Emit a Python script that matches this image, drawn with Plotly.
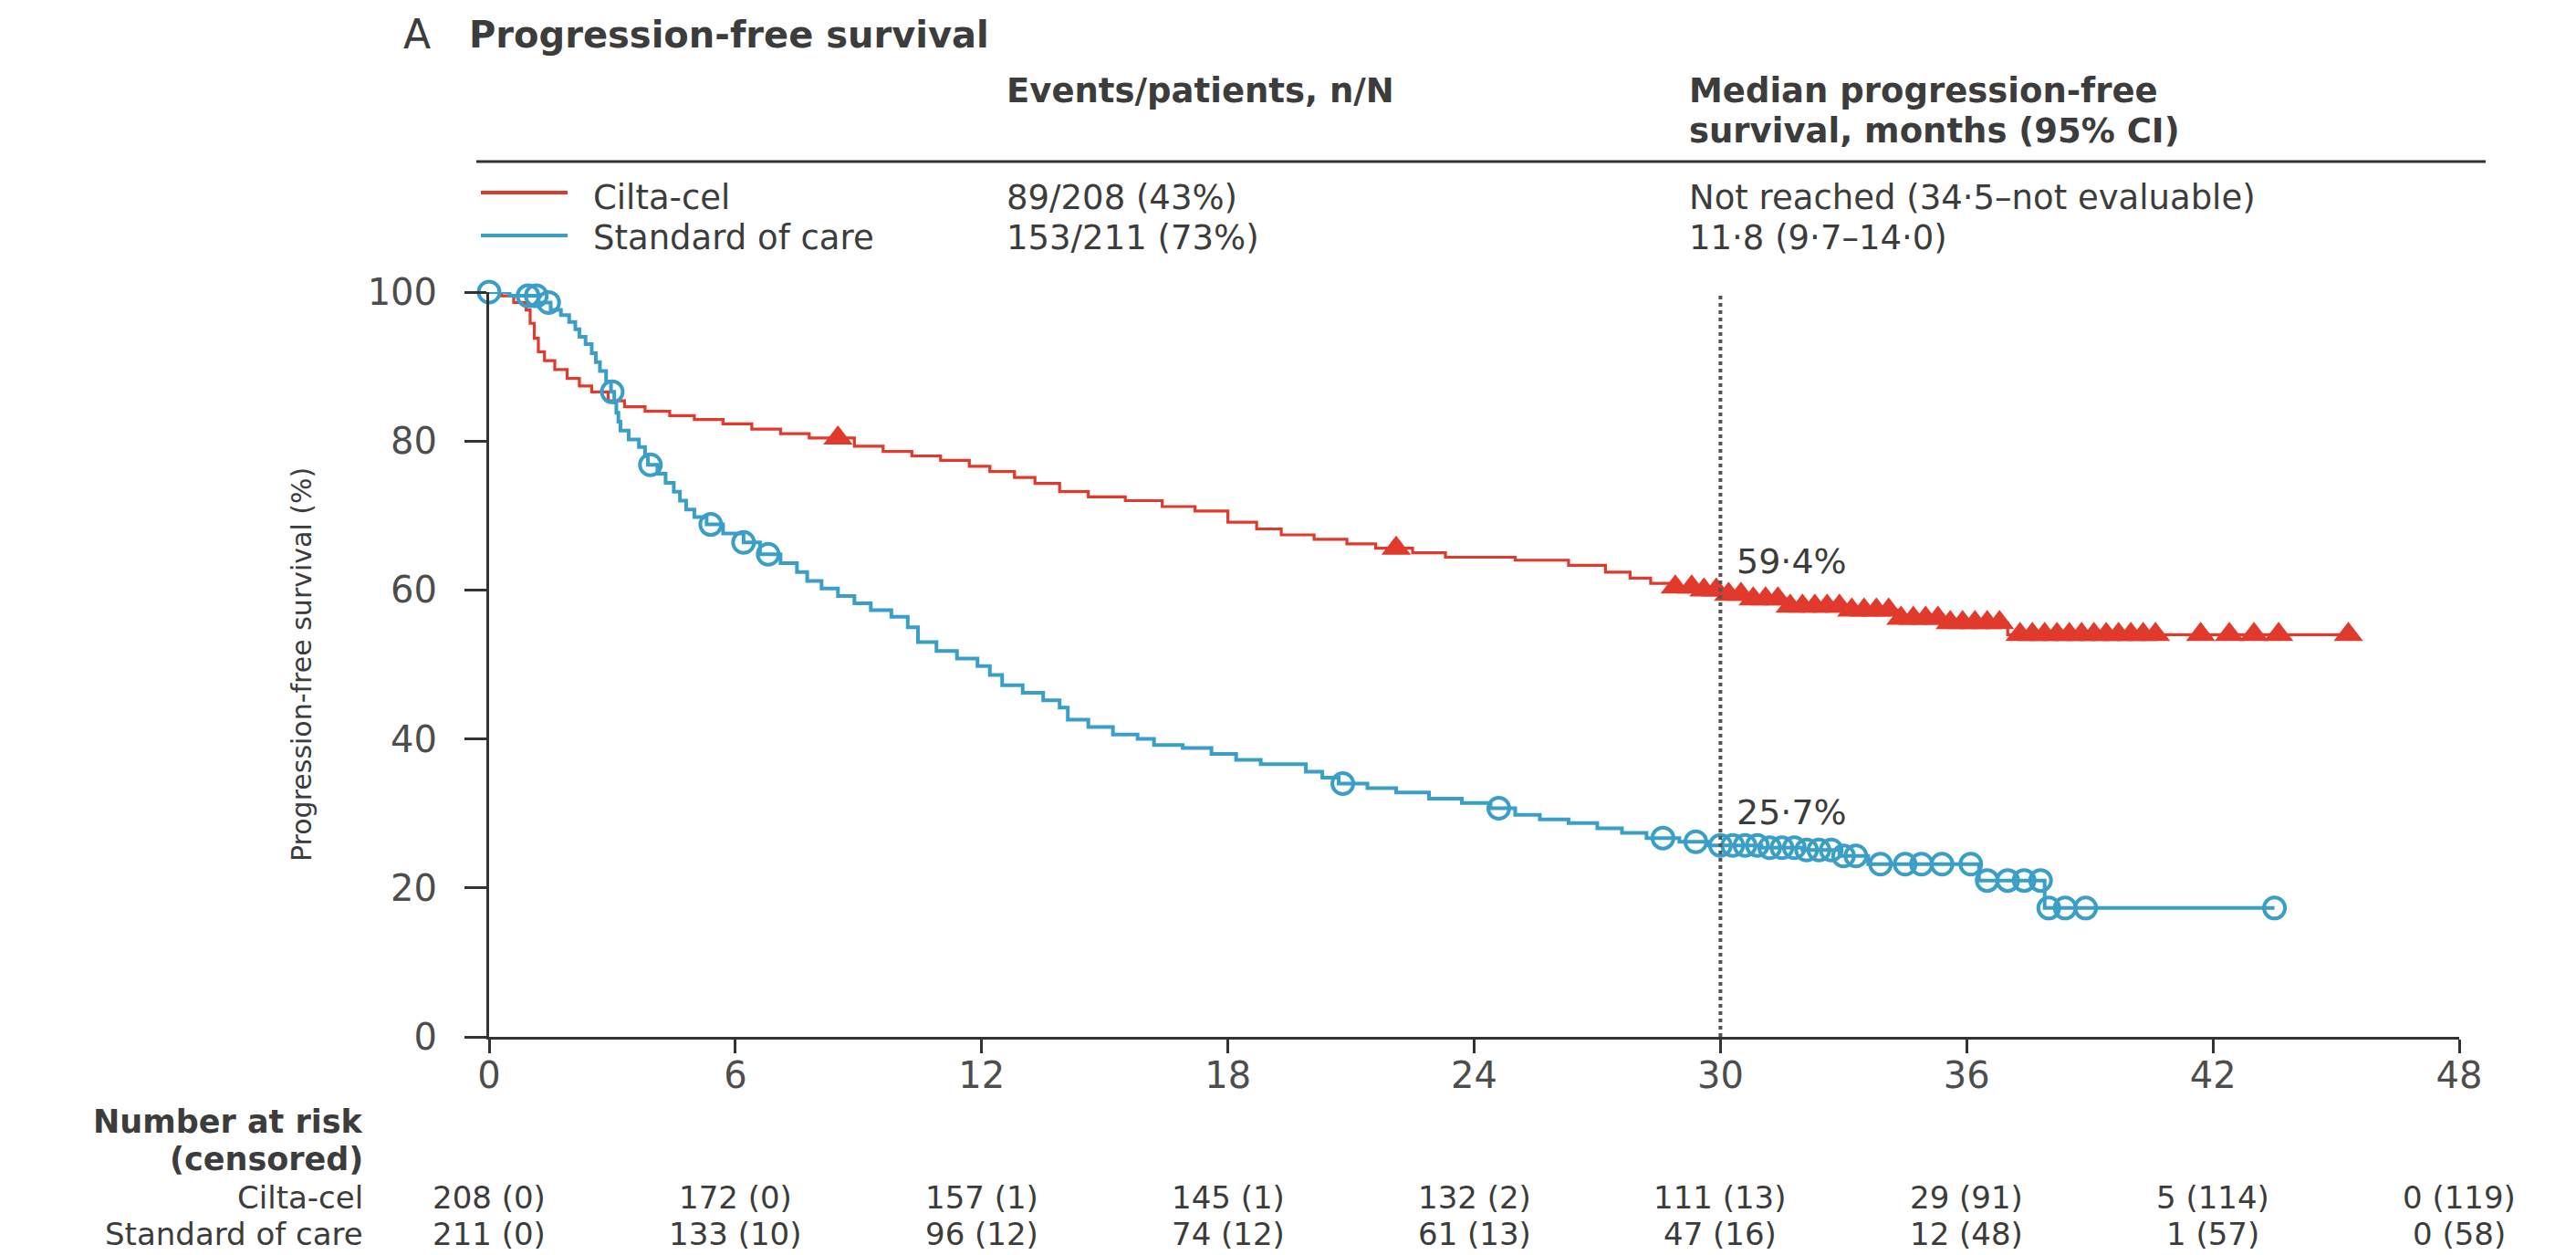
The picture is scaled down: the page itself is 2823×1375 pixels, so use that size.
import numpy as np
import plotly.graph_objects as go

# ---------------------------------------------------------------- data
months = [0, 6, 12, 18, 24, 30, 36, 42, 48]
pct_ticks = [0, 20, 40, 60, 80, 100]

# Kaplan-Meier step knots: time (months) and survival (%) after each drop
cilta_t = [0, 0.3, 0.6, 0.9, 1.0, 1.1, 1.2, 1.35, 1.6, 1.9, 2.2, 2.5, 2.9, 3.3,
           3.8, 4.4, 5.0, 5.7, 6.4, 7.1, 7.8, 8.9, 9.6, 10.3, 11.0, 11.7, 12.2,
           12.8, 13.3, 13.9, 14.6, 15.5, 16.4, 17.2, 18.0, 18.7, 19.3, 20.1,
           20.9, 21.6, 22.5, 23.3, 25.0, 26.3, 27.2, 27.8, 28.3, 28.8, 29.5,
           30.0, 30.8, 31.6, 33.0, 34.4, 35.5, 37.0]
cilta_s = [100, 99.5, 98.6, 97.6, 95.8, 93.8, 92.0, 90.8, 89.6, 88.4, 87.4, 86.6,
           85.4, 84.6, 84.0, 83.4, 82.9, 82.3, 81.6, 81.0, 80.4, 79.3, 78.6,
           78.0, 77.4, 76.6, 75.9, 75.1, 74.3, 73.2, 72.5, 72.0, 71.2, 70.6,
           69.1, 68.2, 67.4, 66.8, 66.2, 65.6, 65.0, 64.4, 64.0, 63.3, 62.4,
           61.6, 60.9, 60.4, 60.0, 59.4, 58.8, 57.8, 57.3, 56.2, 55.6, 54.0]
cilta_end = 45.3
cilta_censor = [8.5, 22.1, 28.9, 29.3, 29.6, 29.9, 30.2, 30.5, 30.8, 31.1, 31.4,
                31.7, 32.0, 32.3, 32.6, 32.9, 33.2, 33.5, 33.8, 34.1, 34.4, 34.7,
                35.0, 35.3, 35.6, 35.9, 36.2, 36.5, 36.8, 37.3, 37.6, 37.9, 38.2,
                38.5, 38.8, 39.1, 39.4, 39.7, 40.0, 40.3, 40.6, 41.7, 42.4, 43.0,
                43.6, 45.3]

soc_t = [0, 0.5, 1.2, 1.5, 1.75, 1.95, 2.1, 2.2, 2.35, 2.5, 2.6, 2.7, 2.85, 2.97,
         3.05, 3.1, 3.15, 3.2, 3.4, 3.65, 3.8, 3.87, 4.1, 4.3, 4.5, 4.65, 4.8,
         5.0, 5.3, 5.7, 6.2, 6.6, 7.1, 7.5, 7.75, 8.1, 8.5, 8.9, 9.3, 9.8, 10.2,
         10.45, 10.9, 11.4, 11.9, 12.2, 12.5, 13.0, 13.5, 13.9, 14.1, 14.6, 15.2,
         15.8, 16.2, 16.9, 17.6, 18.2, 18.8, 19.9, 20.3, 20.7, 21.4, 22.1, 22.9,
         23.7, 24.4, 25.0, 25.6, 26.3, 27.0, 27.6, 28.2, 29.0, 29.7, 31.0, 32.0,
         32.9, 33.6, 36.3, 37.9]
soc_s = [100, 99.5, 98.6, 97.6, 96.9, 96.0, 95.0, 94.0, 93.0, 91.8, 90.6, 89.4,
         88.0, 86.6, 85.2, 83.8, 82.6, 81.4, 80.2, 79.2, 78.0, 76.8, 75.6, 74.4,
         73.2, 72.0, 70.8, 69.8, 68.8, 67.6, 66.4, 64.8, 63.6, 62.4, 61.2, 60.2,
         59.2, 58.2, 57.3, 56.4, 55.0, 53.0, 51.8, 50.8, 49.8, 48.6, 47.2, 46.2,
         45.2, 44.2, 42.6, 41.6, 40.6, 40.0, 39.2, 38.8, 38.0, 37.2, 36.6, 35.6,
         34.8, 34.0, 33.4, 32.8, 32.0, 31.4, 30.7, 29.8, 29.2, 28.7, 28.0, 27.4,
         26.7, 26.2, 25.7, 25.4, 25.1, 24.3, 23.2, 21.0, 17.3]
soc_end = 43.5
soc_censor = [0.0, 0.95, 1.15, 1.45, 3.0, 3.93, 5.4, 6.2, 6.8, 20.8, 24.6, 28.6,
              29.4, 30.0, 30.3, 30.6, 30.9, 31.2, 31.5, 31.8, 32.1, 32.4, 32.7,
              33.0, 33.3, 33.9, 34.5, 34.9, 35.4, 36.1, 36.5, 37.0, 37.4, 37.8,
              38.0, 38.4, 38.9, 43.5]

landmark = 30

groups = ["Cilta-cel", "Standard of care"]
events = ["89/208 (43%)", "153/211 (73%)"]
medians = ["Not reached (34·5–not evaluable)", "11·8 (9·7–14·0)"]
risk_cilta = ["208 (0)", "172 (0)", "157 (1)", "145 (1)", "132 (2)", "111 (13)",
              "29 (91)", "5 (114)", "0 (119)"]
risk_soc = ["211 (0)", "133 (10)", "96 (12)", "74 (12)", "61 (13)", "47 (16)",
            "12 (48)", "1 (57)", "0 (58)"]

# ---------------------------------------------------------------- style
RED = "#e1392c"
BLUE = "#3a9fc8"
INK = "#333333"
TXT = "#3c3c3c"
TICK_TXT = "#4d4d4d"
FONT = "DejaVu Sans"

W, H = 2823, 1375
ML, MR, MT, MB = 536, 128, 320, 239


def px(x):
    """Horizontal pixel -> paper fraction."""
    return (x - ML) / (W - ML - MR)


def py(y):
    """Vertical pixel (from top) -> paper fraction."""
    return (H - MB - y) / (H - MT - MB)


def step_value(t_knots, s_knots, t):
    i = np.searchsorted(np.asarray(t_knots), np.asarray(t), side="right") - 1
    return np.asarray(s_knots)[i]


def fmt_pct(v):
    return f"{v:.1f}".replace(".", "·") + "%"


fig = go.Figure()

# survival curves
for t, s, end, col, w in [(cilta_t, cilta_s, cilta_end, RED, 3.2),
                          (soc_t, soc_s, soc_end, BLUE, 4)]:
    fig.add_trace(go.Scatter(
        x=list(t) + [end], y=list(s) + [s[-1]], mode="lines",
        line=dict(color=col, width=w, shape="hv"),
        hoverinfo="skip", showlegend=False, cliponaxis=False))

# censoring marks
fig.add_trace(go.Scatter(
    x=cilta_censor, y=step_value(cilta_t, cilta_s, cilta_censor), mode="markers",
    marker=dict(symbol="triangle-up", size=28, color=RED, line=dict(width=0)),
    showlegend=False, cliponaxis=False))
fig.add_trace(go.Scatter(
    x=soc_censor, y=step_value(soc_t, soc_s, soc_censor), mode="markers",
    marker=dict(symbol="circle-open", size=23, color=BLUE,
                line=dict(width=4, color=BLUE)),
    showlegend=False, cliponaxis=False))

# landmark line at 30 months
fig.add_shape(type="line", xref="x", yref="y", x0=landmark, x1=landmark, y0=0, y1=100.5,
              line=dict(color="#555555", width=4, dash="dot"))

annotations = []
v_c = float(step_value(cilta_t, cilta_s, landmark))
v_s = float(step_value(soc_t, soc_s, landmark))
for v in (v_c, v_s):
    annotations.append(dict(x=landmark + 0.35, y=v + 4.4, xref="x", yref="y",
                            text=fmt_pct(v), font=dict(size=38)))

# heading block
annotations += [
    dict(x=px(440), y=py(38), text="A", font=dict(size=44)),
    dict(x=px(512), y=py(38), text="<b>Progression-free survival</b>", font=dict(size=40)),
    dict(x=px(1101), y=py(99), text="<b>Events/patients, n/N</b>", font=dict(size=37)),
    dict(x=px(1849), y=py(99), text="<b>Median progression-free</b>", font=dict(size=37)),
    dict(x=px(1849), y=py(143), text="<b>survival, months (95% CI)</b>", font=dict(size=37)),
]
for row_y, g, e, m in zip([216, 260], groups, events, medians):
    annotations += [
        dict(x=px(648), y=py(row_y), text=g, font=dict(size=37)),
        dict(x=px(1101), y=py(row_y), text=e, font=dict(size=37)),
        dict(x=px(1849), y=py(row_y), text=m, font=dict(size=37)),
    ]

# y-axis title
annotations.append(dict(x=px(330), y=0.5, text="Progression-free survival (%)",
                        textangle=-90, xanchor="center", font=dict(size=30)))

# number-at-risk table
LABEL_R = 400
annotations += [
    dict(x=px(LABEL_R), y=py(1229), text="<b>Number at risk</b>", xanchor="right",
         font=dict(size=35)),
    dict(x=px(LABEL_R), y=py(1270), text="<b>(censored)</b>", xanchor="right",
         font=dict(size=35)),
]
for row_y, g, vals in zip([1312, 1352], groups, [risk_cilta, risk_soc]):
    annotations.append(dict(x=px(LABEL_R), y=py(row_y), text=g, xanchor="right",
                            font=dict(size=34)))
    for m, v in zip(months, vals):
        annotations.append(dict(x=m, xref="x", y=py(row_y), text=v,
                                xanchor="center", font=dict(size=34)))

for a in annotations:
    a.setdefault("xref", "paper")
    a.setdefault("yref", "paper")
    a.setdefault("xanchor", "left")
    a.setdefault("yanchor", "middle")
    a["showarrow"] = False
    f = a.setdefault("font", {})
    f.setdefault("family", FONT)
    f.setdefault("color", TXT)

shapes = [
    # rule under the column headings
    dict(type="line", xref="paper", yref="paper", x0=px(522), x1=px(2724),
         y0=py(177), y1=py(177), line=dict(color=INK, width=3)),
    # legend keys
    dict(type="line", xref="paper", yref="paper", x0=px(527), x1=px(622),
         y0=py(211), y1=py(211), line=dict(color=RED, width=4)),
    dict(type="line", xref="paper", yref="paper", x0=px(527), x1=px(622),
         y0=py(258), y1=py(258), line=dict(color=BLUE, width=4)),
]
for s in shapes:
    fig.add_shape(**s)

fig.update_layout(
    width=W, height=H,
    margin=dict(l=ML, r=MR, t=MT, b=MB, pad=0),
    paper_bgcolor="white", plot_bgcolor="white",
    font=dict(family=FONT, color=TXT),
    annotations=annotations,
    showlegend=False,
    xaxis=dict(range=[0, 48], tickvals=months, ticktext=[str(m) for m in months],
               ticks="outside", ticklen=15, tickwidth=3, tickcolor=INK,
               ticklabelstandoff=-10,
               showline=True, linewidth=3, linecolor=INK, showgrid=False,
               zeroline=False, tickfont=dict(family=FONT, size=40, color=TICK_TXT)),
    yaxis=dict(range=[0, 100], tickvals=pct_ticks, ticks="outside", ticklen=24,
               tickwidth=3, tickcolor=INK, ticklabelstandoff=22,
               showline=True, linewidth=3, linecolor=INK,
               showgrid=False, zeroline=False,
               tickfont=dict(family=FONT, size=40, color=TICK_TXT)),
)

fig.write_html("out.html")
